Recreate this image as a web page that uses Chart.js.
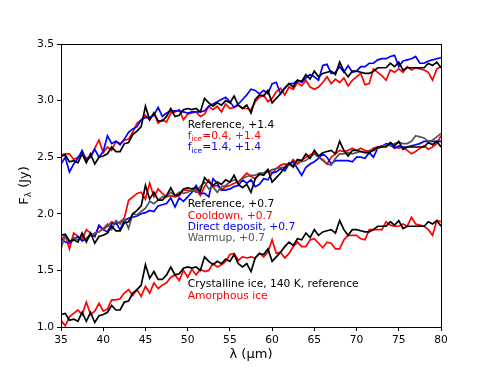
<!DOCTYPE html>
<html>
<head>
<meta charset="utf-8">
<script src="https://cdn.jsdelivr.net/npm/chart.js@4.4.1/dist/chart.umd.min.js"></script>
<style>
  html, body { margin: 0; padding: 0; background: #fff; }
  #wrap { width: 490px; height: 368px; }
</style>
</head>
<body>
<div id="wrap"><canvas id="chart" width="490" height="368"></canvas></div>
<script>
// wavelength grid (micron)
const lam = [35,35.5,36,36.5,37,37.5,38,38.5,39,39.5,40,40.5,41,41.5,42,42.5,43,43.5,44,44.5,
  45,45.5,46,46.5,47,47.5,48,48.5,49,49.5,50,50.5,51,51.5,52,52.5,53,53.5,54,54.5,
  55,55.5,56,56.5,57,57.5,58,58.5,59,59.5,60,60.5,61,61.5,62,62.5,63,63.5,64,64.5,
  65,65.5,66,66.5,67,67.5,68,68.5,69,69.5,70,70.5,71,71.5,72,72.5,73,73.5,74,74.5,
  75,75.5,76,76.5,77,77.5,78,78.5,79,79.5,80];

// crystalline ice, 140 K (reference) - also shown shifted by +0.7 and +1.4
const reference = [1.11,1.12,1.06,1.07,1.05,1.13,1.05,1.13,1.04,1.10,1.11,1.13,1.19,1.15,1.15,1.22,1.23,1.30,1.33,1.37,
  1.55,1.43,1.49,1.42,1.42,1.46,1.53,1.46,1.47,1.52,1.53,1.52,1.53,1.50,1.62,1.58,1.55,1.58,1.56,1.60,
  1.58,1.64,1.56,1.53,1.56,1.49,1.61,1.65,1.64,1.69,1.58,1.62,1.66,1.71,1.75,1.72,1.78,1.77,1.83,1.79,
  1.86,1.81,1.84,1.85,1.86,1.83,1.94,1.86,1.81,1.86,1.86,1.85,1.84,1.84,1.86,1.89,1.89,1.89,1.93,1.90,
  1.94,1.87,1.89,1.89,1.89,1.89,1.89,1.93,1.91,1.94,1.89];

const amorphous = [1.06,1.01,1.09,1.12,1.15,1.11,1.22,1.11,1.14,1.21,1.14,1.16,1.24,1.24,1.25,1.30,1.33,1.28,1.33,1.27,
  1.36,1.30,1.39,1.34,1.37,1.39,1.44,1.46,1.41,1.50,1.44,1.51,1.46,1.51,1.49,1.50,1.56,1.53,1.55,1.58,
  1.64,1.65,1.59,1.62,1.61,1.62,1.61,1.65,1.62,1.66,1.77,1.65,1.66,1.61,1.65,1.71,1.75,1.71,1.71,1.77,
  1.78,1.74,1.70,1.75,1.74,1.69,1.69,1.77,1.81,1.81,1.81,1.78,1.77,1.86,1.86,1.86,1.86,1.93,1.90,1.89,
  1.89,1.91,1.89,1.97,1.91,1.90,1.89,1.86,1.81,1.94,1.93];

// +1.4 group (values as plotted)
const fice04 = [2.52,2.53,2.53,2.48,2.50,2.53,2.49,2.51,2.58,2.65,2.54,2.59,2.56,2.64,2.62,2.65,2.66,2.72,2.80,2.83,
  2.87,2.83,2.89,2.80,2.83,2.81,2.89,2.90,2.92,2.83,2.88,2.89,2.90,2.86,2.88,2.95,2.92,2.95,2.90,2.97,
  2.93,2.94,2.96,2.93,2.93,2.92,2.99,3.03,3.05,2.99,3.02,3.08,3.11,3.05,3.12,3.10,3.16,3.13,3.18,3.12,
  3.10,3.12,3.16,3.21,3.15,3.19,3.16,3.20,3.13,3.18,3.21,3.24,3.14,3.15,3.28,3.25,3.22,3.18,3.27,3.25,
  3.28,3.25,3.30,3.27,3.29,3.28,3.27,3.25,3.18,3.28,3.30];

const fice14 = [2.44,2.50,2.37,2.44,2.49,2.56,2.47,2.50,2.57,2.50,2.55,2.69,2.62,2.64,2.61,2.66,2.72,2.75,2.77,2.83,
  2.85,2.85,2.87,2.94,2.86,2.89,2.91,2.91,2.91,2.90,2.89,2.90,2.90,2.90,2.91,2.95,2.97,2.99,3.01,3.03,
  2.99,2.94,2.97,3.01,3.05,3.10,3.09,3.06,3.09,3.06,3.15,3.16,3.06,3.11,3.15,3.15,3.18,3.16,3.20,3.23,
  3.21,3.18,3.31,3.32,3.24,3.25,3.30,3.25,3.31,3.25,3.26,3.30,3.30,3.33,3.33,3.36,3.37,3.37,3.39,3.40,
  3.30,3.35,3.36,3.37,3.39,3.33,3.33,3.35,3.36,3.37,3.38];

// +0.7 group (values as plotted)
const cooldown = [1.77,1.81,1.69,1.83,1.80,1.77,1.86,1.83,1.80,1.89,1.86,1.89,1.93,1.91,1.93,1.96,2.12,2.15,2.18,2.19,
  2.13,2.27,2.15,2.22,2.18,2.15,2.16,2.15,2.16,2.21,2.21,2.20,2.21,2.16,2.24,2.30,2.24,2.25,2.21,2.24,
  2.25,2.27,2.28,2.32,2.36,2.33,2.31,2.35,2.36,2.39,2.36,2.40,2.43,2.44,2.43,2.48,2.44,2.47,2.50,2.52,
  2.54,2.50,2.48,2.44,2.50,2.53,2.56,2.55,2.56,2.58,2.56,2.58,2.56,2.55,2.58,2.59,2.60,2.61,2.62,2.59,
  2.58,2.59,2.56,2.53,2.55,2.58,2.60,2.57,2.59,2.62,2.69];

const directDeposit = [1.78,1.75,1.74,1.77,1.80,1.76,1.78,1.82,1.80,1.90,1.86,1.84,1.91,1.92,1.86,1.94,1.96,1.97,1.98,2.00,
  2.01,2.03,2.02,2.07,2.08,2.09,2.14,2.06,2.14,2.11,2.15,2.19,2.25,2.18,2.18,2.15,2.31,2.27,2.21,2.21,
  2.22,2.24,2.25,2.30,2.27,2.30,2.24,2.26,2.31,2.30,2.36,2.37,2.40,2.38,2.44,2.46,2.40,2.34,2.41,2.44,
  2.46,2.49,2.53,2.50,2.44,2.47,2.47,2.47,2.47,2.46,2.50,2.50,2.49,2.54,2.50,2.58,2.59,2.62,2.61,2.58,
  2.60,2.59,2.59,2.60,2.61,2.62,2.64,2.64,2.64,2.64,2.64];

const warmup = [1.69,1.81,1.75,1.79,1.77,1.80,1.77,1.81,1.83,1.84,1.87,1.91,1.86,1.94,1.91,1.96,1.87,2.00,1.99,2.02,
  2.05,2.11,2.09,2.12,2.15,2.16,2.19,2.16,2.19,2.18,2.19,2.21,2.19,2.24,2.28,2.22,2.24,2.19,2.24,2.25,
  2.28,2.30,2.28,2.31,2.33,2.34,2.34,2.36,2.36,2.37,2.39,2.40,2.41,2.41,2.44,2.41,2.47,2.46,2.47,2.50,
  2.53,2.50,2.47,2.44,2.43,2.49,2.53,2.53,2.54,2.53,2.54,2.55,2.54,2.56,2.56,2.58,2.59,2.61,2.60,2.62,
  2.63,2.62,2.62,2.64,2.69,2.68,2.67,2.64,2.65,2.68,2.71];

// text labels: [y value of line, color, parts]
const labelX = 50;
const labels = [
  [2.78, '#000000', [['Reference, +1.4']]],
  [2.685, '#ff0000', [['f'], ['ice', 1], ['=0.4, +1.4']]],
  [2.584, '#0000ff', [['f'], ['ice', 1], ['=1.4, +1.4']]],
  [2.084, '#000000', [['Reference, +0.7']]],
  [1.981, '#ff0000', [['Cooldown, +0.7']]],
  [1.877, '#0000ff', [['Direct deposit, +0.7']]],
  [1.780, '#555555', [['Warmup, +0.7']]],
  [1.377, '#000000', [['Crystalline ice, 140 K, reference']]],
  [1.276, '#ff0000', [['Amorphous ice']]]
];

const FONT = 'DejaVu Sans';

function pts(arr, off) {
  return arr.map((v, i) => ({x: lam[i], y: v + off}));
}

function line(data, color) {
  return {data: data, borderColor: color, borderWidth: 1.7, pointRadius: 0, tension: 0, fill: false};
}

function drawParts(ctx, x, y, parts, size) {
  let cx = x;
  parts.forEach(p => {
    const sub = p[1];
    ctx.font = (sub ? size * 0.7 : size) + 'px "' + FONT + '"';
    ctx.fillText(p[0], cx, sub ? y + size * 0.3 : y);
    cx += ctx.measureText(p[0]).width;
  });
  return cx - x;
}

const decor = {
  id: 'decor',
  afterDatasetsDraw(chart) {
    const ctx = chart.ctx;
    const a = chart.chartArea;
    const xs = chart.scales.x, ys = chart.scales.y;
    ctx.save();
    ctx.strokeStyle = '#000';
    ctx.lineWidth = 1;
    ctx.strokeRect(Math.round(a.left) + 0.5, Math.round(a.top) + 0.5,
      Math.round(a.right - a.left), Math.round(a.bottom - a.top));

    ctx.textBaseline = 'middle';
    ctx.textAlign = 'left';
    labels.forEach(l => {
      ctx.fillStyle = l[1];
      drawParts(ctx, xs.getPixelForValue(labelX), ys.getPixelForValue(l[0]), l[2], 10.7);
    });

    // axis titles
    ctx.fillStyle = '#000';
    ctx.font = '13px "' + FONT + '"';
    ctx.textAlign = 'center';
    ctx.fillText('\u03bb (\u00b5m)', (a.left + a.right) / 2, 355);

    ctx.translate(25, (a.top + a.bottom) / 2);
    ctx.rotate(-Math.PI / 2);
    const yParts = [['F'], ['\u03bb', 1], [' (Jy)']];
    ctx.textAlign = 'left';
    let w = 0;
    yParts.forEach(p => {
      ctx.font = (p[1] ? 13 * 0.7 : 13) + 'px "' + FONT + '"';
      w += ctx.measureText(p[0]).width;
    });
    drawParts(ctx, -w / 2, 0, yParts, 13);
    ctx.restore();
  }
};

const tickFont = {family: FONT, size: 10.7};

new Chart(document.getElementById('chart'), {
  type: 'line',
  data: {
    datasets: [
      line(pts(reference, 1.4), '#000000'),
      line(pts(reference, 0.7), '#000000'),
      line(pts(reference, 0), '#000000'),
      line(pts(warmup, 0), '#555555'),
      line(pts(fice14, 0), '#0000ff'),
      line(pts(directDeposit, 0), '#0000ff'),
      line(pts(fice04, 0), '#ff0000'),
      line(pts(cooldown, 0), '#ff0000'),
      line(pts(amorphous, 0), '#ff0000')
    ]
  },
  options: {
    responsive: false,
    animation: false,
    layout: {padding: {top: 44, right: 49, left: 0, bottom: 0}},
    plugins: {legend: {display: false}, tooltip: {enabled: false}},
    scales: {
      x: {
        type: 'linear', min: 35, max: 80,
        afterFit: s => { s.height = 41; },
        ticks: {stepSize: 5, color: '#000', font: tickFont, padding: 3, maxRotation: 0},
        grid: {drawOnChartArea: false, drawTicks: true, tickLength: 4, color: '#000'},
        border: {color: '#000'}
      },
      y: {
        min: 1, max: 3.5,
        afterFit: s => { s.width = 61; },
        ticks: {stepSize: 0.5, color: '#000', font: tickFont, padding: 3,
          callback: v => v.toFixed(1)},
        grid: {drawOnChartArea: false, drawTicks: true, tickLength: 4, color: '#000'},
        border: {color: '#000'}
      }
    }
  },
  plugins: [decor]
});
</script>
</body>
</html>
